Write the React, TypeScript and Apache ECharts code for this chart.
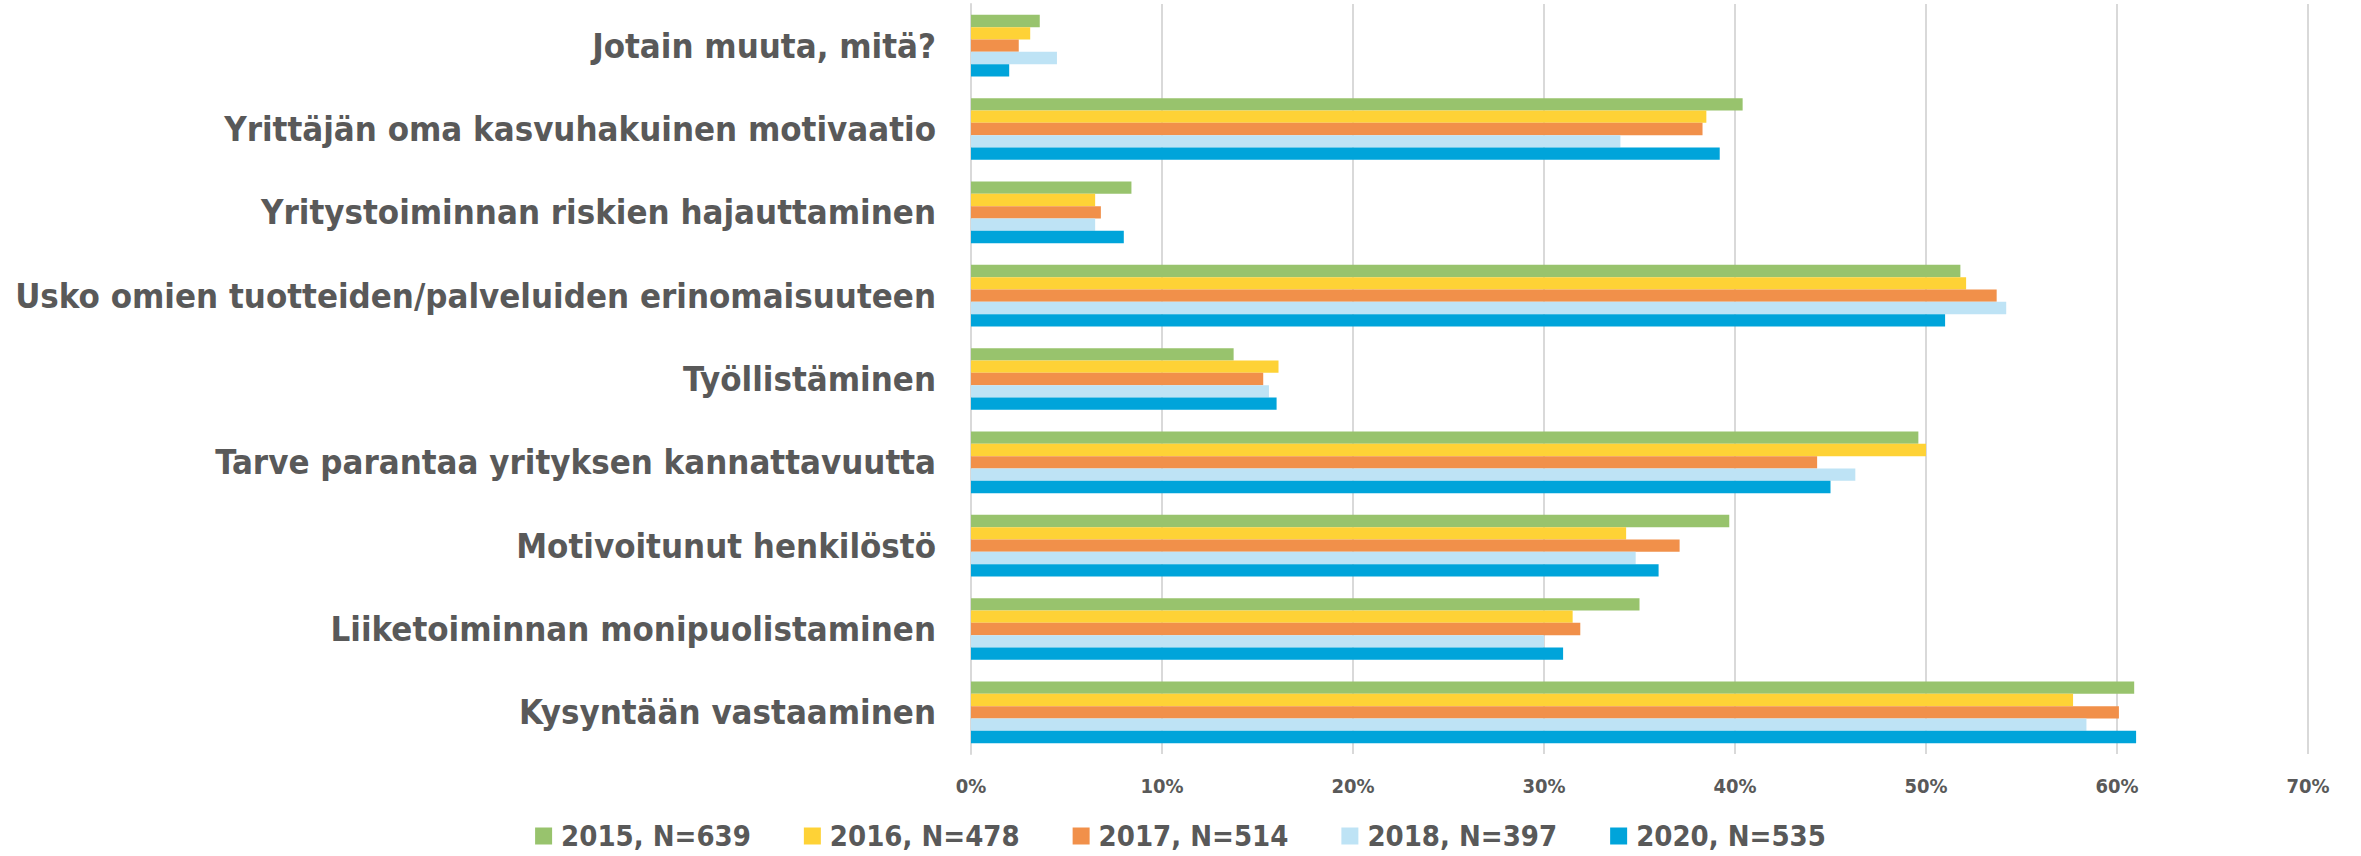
import React, { useEffect, useRef } from "react";
import * as echarts from "echarts";

const categories = [
  "Jotain muuta, mitä?",
  "Yrittäjän oma kasvuhakuinen motivaatio",
  "Yritystoiminnan riskien hajauttaminen",
  "Usko omien tuotteiden/palveluiden erinomaisuuteen",
  "Työllistäminen",
  "Tarve parantaa yrityksen kannattavuutta",
  "Motivoitunut henkilöstö",
  "Liiketoiminnan monipuolistaminen",
  "Kysyntään vastaaminen",
];

const seriesNames = ["2015, N=639", "2016, N=478", "2017, N=514", "2018, N=397", "2020, N=535"];
const seriesColors = ["#98C36D", "#FED236", "#F1904A", "#BEE3F5", "#00A4DA"];

const v2015 = [3.6, 40.4, 8.4, 51.8, 13.75, 49.6, 39.7, 35.0, 60.9];
const v2016 = [3.1, 38.5, 6.5, 52.1, 16.1, 50.0, 34.3, 31.5, 57.7];
const v2017 = [2.5, 38.3, 6.8, 53.7, 15.3, 44.3, 37.1, 31.9, 60.1];
const v2018 = [4.5, 34.0, 6.5, 54.2, 15.6, 46.3, 34.8, 30.0, 58.4];
const v2020 = [2.0, 39.2, 8.0, 51.0, 16.0, 45.0, 36.0, 31.0, 61.0];

const seriesValues = [v2015, v2016, v2017, v2018, v2020];

const FONT = "'DejaVu Sans Condensed', 'DejaVu Sans', sans-serif";
const TEXT_COLOR = "#595959";

export default function App() {
  const ref = useRef<HTMLDivElement>(null);

  useEffect(() => {
    if (!ref.current) return;
    const chart = echarts.init(ref.current, undefined, { renderer: "svg" });
    chart.setOption({
      animation: false,
      backgroundColor: "#ffffff",
      grid: { left: 971, right: 53, top: 4, bottom: 102, containLabel: false },
      legend: {
        data: seriesNames,
        left: "center",
        top: 820,
        itemWidth: 17,
        itemHeight: 17,
        itemGap: 53,
        icon: "rect",
        padding: 0,
        textStyle: {
          fontFamily: FONT,
          fontSize: 29,
          lineHeight: 32,
          fontWeight: "bold",
          color: TEXT_COLOR,
          padding: [0, 0, 0, 4],
        },
      },
      xAxis: {
        type: "value",
        min: 0,
        max: 70,
        interval: 10,
        axisLine: { show: false },
        axisTick: { show: false },
        splitLine: { show: true, lineStyle: { color: "#D9D9D9", width: 2 } },
        axisLabel: {
          formatter: "{value}%",
          margin: 22,
          fontFamily: FONT,
          fontSize: 20,
          fontWeight: "bold",
          color: TEXT_COLOR,
        },
      },
      yAxis: {
        type: "category",
        data: categories,
        inverse: true,
        axisLine: { show: true, lineStyle: { color: "#D9D9D9", width: 2 } },
        axisTick: { show: false },
        axisLabel: {
          margin: 35,
          fontFamily: FONT,
          fontSize: 34.5,
          fontWeight: "bold",
          color: TEXT_COLOR,
        },
      },
      series: seriesNames.map((name, i) => ({
        name,
        type: "bar",
        data: seriesValues[i],
        itemStyle: { color: seriesColors[i] },
        barGap: "0%",
        barCategoryGap: "26%",
      })),
    });
    return () => chart.dispose();
  }, []);

  return (
    <div
      ref={ref}
      style={{ position: "fixed", left: 0, top: 0, width: 2361, height: 856 }}
    />
  );
}
